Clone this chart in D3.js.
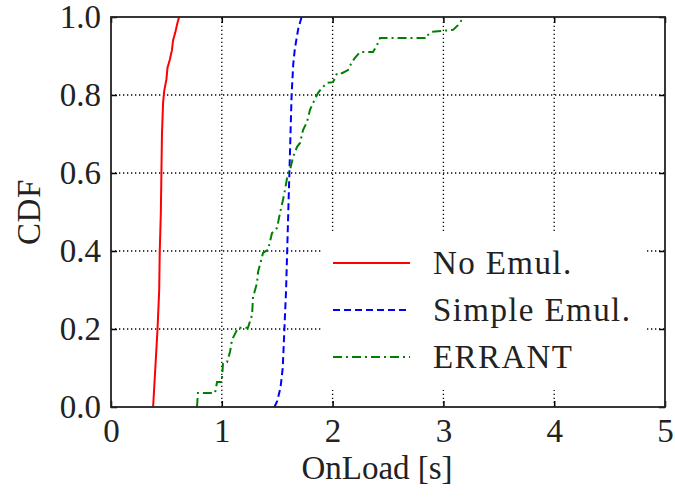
<!DOCTYPE html>
<html>
<head>
<meta charset="utf-8">
<script src="https://cdn.jsdelivr.net/npm/d3@7"></script>
<style>
  html, body { margin: 0; padding: 0; background: #fff; }
  svg { display: block; }
  text { font-family: "Liberation Serif", "DejaVu Serif", serif; fill: #222; }
</style>
</head>
<body>
<svg id="chart" width="675" height="497"></svg>
<script>
// Empirical CDF curves of the page OnLoad time, [seconds, cumulative fraction]
const noEmul = [
  [0.38, 0.00], [0.40, 0.10], [0.42, 0.20], [0.435, 0.30], [0.44, 0.40],
  [0.45, 0.50], [0.455, 0.60], [0.46, 0.70], [0.47, 0.78], [0.48, 0.81],
  [0.50, 0.84], [0.51, 0.87], [0.53, 0.89], [0.55, 0.915], [0.56, 0.94],
  [0.58, 0.96], [0.60, 0.985], [0.615, 1.00]
];
const simpleEmul = [
  [1.475, 0.00], [1.50, 0.015], [1.53, 0.05], [1.55, 0.10], [1.565, 0.20],
  [1.58, 0.30], [1.59, 0.40], [1.60, 0.50], [1.61, 0.60], [1.62, 0.70],
  [1.63, 0.80], [1.645, 0.88], [1.66, 0.92], [1.69, 0.97], [1.72, 1.00]
];
const errant = [
  [0.776, 0.000], [0.785, 0.036], [0.939, 0.036], [0.957, 0.064], [1.000, 0.064],
  [1.011, 0.113], [1.047, 0.115], [1.074, 0.141], [1.092, 0.172], [1.146, 0.203],
  [1.236, 0.203], [1.273, 0.236], [1.282, 0.282], [1.318, 0.318], [1.327, 0.346],
  [1.372, 0.395], [1.417, 0.403], [1.453, 0.446], [1.498, 0.459], [1.525, 0.497],
  [1.552, 0.531], [1.570, 0.556], [1.597, 0.600], [1.616, 0.608], [1.643, 0.641],
  [1.679, 0.667], [1.706, 0.677], [1.733, 0.710], [1.769, 0.731], [1.796, 0.762],
  [1.823, 0.779], [1.868, 0.805], [1.904, 0.818], [1.949, 0.831], [2.004, 0.833],
  [2.040, 0.856], [2.085, 0.856], [2.139, 0.864], [2.175, 0.885], [2.202, 0.895],
  [2.247, 0.910], [2.365, 0.910], [2.401, 0.928], [2.428, 0.946], [2.852, 0.946],
  [2.861, 0.954], [2.897, 0.962], [3.087, 0.967], [3.132, 0.979], [3.177, 0.997],
  [3.190, 1.000]
];

const seriesNames = ["No Emul.", "Simple Emul.", "ERRANT"];
const xTicks = [0, 1, 2, 3, 4, 5];
const yTicks = [0.0, 0.2, 0.4, 0.6, 0.8, 1.0];
const xLabel = "OnLoad [s]";
const yLabel = "CDF";

const styles = [
  { color: "#ff0000", dash: null },
  { color: "#0000ff", dash: "7,4" },
  { color: "#008000", dash: "9,4,2,4" }
];
const seriesData = [noEmul, simpleEmul, errant];

const FS = 33;
const svg = d3.select("#chart");
const margin = { left: 111, right: 10, top: 17, bottom: 90 };
const W = 675, H = 497;
const x = d3.scaleLinear().domain([0, 5]).range([margin.left, W - margin.right]);
const y = d3.scaleLinear().domain([0, 1]).range([H - margin.bottom, margin.top]);

// dotted grid on the inner ticks
const grid = svg.append("g").attr("stroke", "#000").attr("stroke-width", 1.3)
  .attr("stroke-dasharray", "1.3,2.7");
grid.selectAll("line.gx").data(xTicks.slice(1, -1)).join("line")
  .attr("x1", d => x(d)).attr("x2", d => x(d))
  .attr("y1", y(0)).attr("y2", y(1));
grid.selectAll("line.gy").data(yTicks.slice(1, -1)).join("line")
  .attr("x1", x(0)).attr("x2", x(5))
  .attr("y1", d => y(d)).attr("y2", d => y(d));

// CDF curves
const line = d3.line().x(d => x(d[0])).y(d => y(d[1]));
svg.append("g").selectAll("path").data(seriesData).join("path")
  .attr("d", line)
  .attr("fill", "none")
  .attr("stroke", (d, i) => styles[i].color)
  .attr("stroke-width", 2)
  .attr("stroke-dasharray", (d, i) => styles[i].dash);

// axes with inward ticks on all four sides
const fmtY = d3.format(".1f");
const axB = svg.append("g").attr("transform", `translate(0,${y(0)})`)
  .call(d3.axisBottom(x).tickValues(xTicks).tickSizeInner(-6).tickSizeOuter(0).tickPadding(12).tickFormat(d3.format("d")));
const axT = svg.append("g").attr("transform", `translate(0,${y(1)})`)
  .call(d3.axisTop(x).tickValues(xTicks).tickSizeInner(-6).tickSizeOuter(0).tickFormat(""));
const axL = svg.append("g").attr("transform", `translate(${x(0)},0)`)
  .call(d3.axisLeft(y).tickValues(yTicks).tickSizeInner(-6).tickSizeOuter(0).tickPadding(10).tickFormat(fmtY));
const axR = svg.append("g").attr("transform", `translate(${x(5)},0)`)
  .call(d3.axisRight(y).tickValues(yTicks).tickSizeInner(-6).tickSizeOuter(0).tickFormat(""));
[axB, axT, axL, axR].forEach(a => {
  a.select(".domain").remove();
  a.selectAll(".tick line").attr("stroke", "#000").attr("stroke-width", 1.5);
  a.selectAll(".tick text").attr("font-family", "Liberation Serif, serif")
    .attr("font-size", FS).attr("fill", "#222");
});

// frame
svg.append("rect")
  .attr("x", x(0)).attr("y", y(1))
  .attr("width", x(5) - x(0)).attr("height", y(0) - y(1))
  .attr("fill", "none").attr("stroke", "#222").attr("stroke-width", 1.8);

// axis titles
svg.append("text").attr("x", 377).attr("y", 479)
  .attr("text-anchor", "middle").attr("font-size", FS).text(xLabel);
svg.append("text").attr("transform", `translate(40,${(y(0) + y(1)) / 2}) rotate(-90)`)
  .attr("text-anchor", "middle").attr("font-size", FS).attr("letter-spacing", 0.6).text(yLabel);

// legend
const lg = svg.append("g");
lg.append("rect").attr("x", 322).attr("y", 232).attr("width", 323).attr("height", 158)
  .attr("fill", "#fff");
const rows = lg.selectAll("g.row").data(seriesNames).join("g")
  .attr("transform", (d, i) => `translate(333,${263 + i * 47})`);
rows.append("line").attr("x1", 0).attr("x2", 77).attr("y1", 0).attr("y2", 0)
  .attr("stroke", (d, i) => styles[i].color).attr("stroke-width", 2)
  .attr("stroke-dasharray", (d, i) => styles[i].dash);
rows.append("text").attr("x", 100).attr("y", 11).attr("font-size", FS)
  .attr("letter-spacing", 1.4).text(d => d);
</script>
</body>
</html>
